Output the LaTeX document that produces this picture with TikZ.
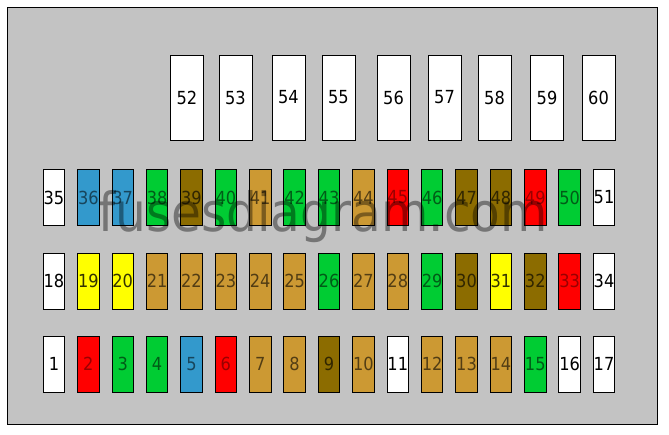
\documentclass[tikz,border=0pt]{standalone}
\usepackage{fontspec}
\newfontfamily\fusefont{DejaVu Sans Condensed}

\definecolor{bggray}{RGB}{195,195,195}
\definecolor{wh}{RGB}{255,255,255}
\definecolor{bl}{RGB}{51,153,204}
\definecolor{gr}{RGB}{0,204,51}
\definecolor{ol}{RGB}{140,108,0}
\definecolor{tn}{RGB}{204,153,51}
\definecolor{rd}{RGB}{255,0,0}
\definecolor{ye}{RGB}{255,255,0}
% text colours inside the fuses
\colorlet{twh}{black}
\colorlet{tbl}{bl!45!black}
\colorlet{tgr}{gr!45!black}
\colorlet{tol}{ol!35!black}
\colorlet{ttn}{tn!40!black}
\colorlet{trd}{rd!60!black}
\colorlet{tye}{ye!20!black}

\tikzset{
  fuse/.style={draw=black, line width=0.8pt, rectangle, inner sep=0pt,
    minimum width=21.5pt, minimum height=56.5pt, fill=#1, text=t#1,
    font=\fusefont\fontsize{18}{18}\selectfont},
  bigfuse/.style={fuse=wh, minimum width=33pt, minimum height=85pt}
}

\begin{document}
\begin{tikzpicture}[x=1pt, y=-1pt]
        \useasboundingbox (0,0) rectangle (669,435);
        \draw[fill=bggray, line width=0.8pt] (7,7) rectangle (657,424);

        % big fuses
        \foreach \n/\x in {52/187,53/235.5,54/288.5,55/338.5,56/393.5,57/444.5,58/494.5,59/547,60/598.5}
            \node[bigfuse] (f\n) at (\x,97.5) {\n};

        % small fuses, three rows
        \foreach \n/\c [count=\i from 0] in {35/wh,36/bl,37/bl,38/gr,39/ol,40/gr,41/tn,42/gr,43/gr,44/tn,45/rd,46/gr,47/ol,48/ol,49/rd,50/gr,51/wh}
            \node[fuse=\c] (f\n) at (54+34.375*\i,197.5) {\n};
        \foreach \n/\c [count=\i from 0] in {18/wh,19/ye,20/ye,21/tn,22/tn,23/tn,24/tn,25/tn,26/gr,27/tn,28/tn,29/gr,30/ol,31/ye,32/ol,33/rd,34/wh}
            \node[fuse=\c] (f\n) at (54+34.375*\i,281.3) {\n};
        \foreach \n/\c [count=\i from 0] in {1/wh,2/rd,3/gr,4/gr,5/bl,6/rd,7/tn,8/tn,9/ol,10/tn,11/wh,12/tn,13/tn,14/tn,15/gr,16/wh,17/wh}
            \node[fuse=\c] (f\n) at (54+34.375*\i,364.2) {\n};

        % watermark
        \node[anchor=base west, inner sep=0pt, text=black, text opacity=0.4,
              font=\fusefont\fontsize{54}{54}\selectfont] (wm) at (98,232) {fusesdiagram.com};
    \end{tikzpicture}
\end{document}
